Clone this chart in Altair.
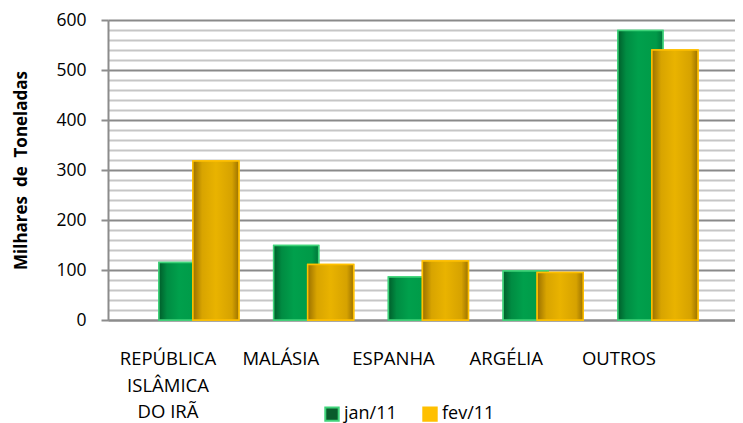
import altair as alt
import pandas as pd

categories = ["REPÚBLICA ISLÂMICA DO IRÃ", "MALÁSIA", "ESPANHA", "ARGÉLIA", "OUTROS"]
cat_labels = ["REPÚBLICA\nISLÂMICA\nDO IRÃ", "MALÁSIA", "ESPANHA", "ARGÉLIA", "OUTROS"]
jan = [115, 149, 86, 98, 579]
fev = [318, 111, 118, 95, 540]
series = ["jan/11", "fev/11"]

df = pd.DataFrame({"cat": categories, "jan": jan, "fev": fev, "label": cat_labels})

FONT = "Open Sans"
grid_values = list(range(0, 601, 20))

x_enc = alt.X(
    "cat:N", sort=categories,
    scale=alt.Scale(paddingInner=0, paddingOuter=0.232, align=0.63),
    axis=alt.Axis(labels=False, ticks=False, title=None, grid=False,
                  domainColor="#8c8c8c", domainWidth=2),
)

y_axis = alt.Axis(
    values=grid_values,
    labelExpr="datum.value % 100 === 0 ? datum.label : ''",
    gridColor={"condition": {"test": "datum.value % 100 === 0", "value": "#8a8a8a"}, "value": "#c6c6c6"},
    gridWidth=2,
    tickColor="#8c8c8c",
    tickOpacity={"condition": {"test": "datum.value % 100 === 0", "value": 1}, "value": 0},
    tickSize=7, tickWidth=2,
    domainColor="#8c8c8c", domainWidth=2,
    labelFont=FONT, labelFontSize=17.5, labelColor="#000000", labelPadding=15,
    title="Milhares\u00a0 de\u00a0 Toneladas", titleFont=FONT, titleFontSize=17,
    titleFontWeight="bold", titleColor="#000000", titlePadding=25,
)

def y_enc(field):
    return alt.Y(f"{field}:Q", scale=alt.Scale(domain=[0, 600], nice=False), axis=y_axis)

color_scale = alt.Scale(domain=series, range=["#0a5c2c", "#ffc000"])
stroke_scale = alt.Scale(domain=series, range=["#3fd37a", "#ffc000"])
legend = alt.Legend(
    title=None, orient="none", legendX=215, legendY=385, direction="horizontal",
    symbolType="square", symbolSize=180, symbolStrokeWidth=2,
    labelFont=FONT, labelFontSize=18, labelColor="#000000",
    columnPadding=22, padding=0, symbolOffset=0, labelOffset=3,
)

green_grad = alt.Gradient(
    gradient="linear", x1=0, x2=1, y1=0, y2=0,
    stops=[alt.GradientStop(offset=0, color="#005e2b"),
           alt.GradientStop(offset=0.18, color="#008c42"),
           alt.GradientStop(offset=0.45, color="#00a04c"),
           alt.GradientStop(offset=0.85, color="#009a48"),
           alt.GradientStop(offset=1, color="#00763a")],
)
yellow_grad = alt.Gradient(
    gradient="linear", x1=0, x2=1, y1=0, y2=0,
    stops=[alt.GradientStop(offset=0, color="#9a7000"),
           alt.GradientStop(offset=0.2, color="#d8a400"),
           alt.GradientStop(offset=0.5, color="#e9b300"),
           alt.GradientStop(offset=0.85, color="#d6a200"),
           alt.GradientStop(offset=1, color="#9c7200")],
)

base = alt.Chart(df)

green_leg = base.mark_bar(width=45, xOffset=-17.5, strokeWidth=1.5).transform_calculate(
    series="'jan/11'"
).encode(
    x=x_enc, y=y_enc("jan"),
    fill=alt.Fill("series:N", scale=color_scale, legend=legend),
    stroke=alt.Stroke("series:N", scale=stroke_scale, legend=legend),
)
green_bar = base.mark_bar(width=45, xOffset=-17.5, fill=green_grad,
                          stroke="#3fd37a", strokeWidth=1.5).encode(
    x=x_enc, y=y_enc("jan"))
yellow_leg = base.mark_bar(width=46, xOffset=17, strokeWidth=1.5).transform_calculate(
    series="'fev/11'"
).encode(
    x=x_enc, y=y_enc("fev"),
    fill=alt.Fill("series:N", scale=color_scale, legend=legend),
    stroke=alt.Stroke("series:N", scale=stroke_scale, legend=legend),
)
yellow_bar = base.mark_bar(width=46, xOffset=17, fill=yellow_grad,
                           stroke="#ffc000", strokeWidth=1.5).encode(
    x=x_enc, y=y_enc("fev"))

bars = alt.layer(green_leg, green_bar, yellow_leg, yellow_bar)

labels = base.mark_text(
    font=FONT, fontSize=18.5, color="#000000", align="center",
    baseline="alphabetic", lineBreak="\n", lineHeight=26.5,
).encode(
    x=alt.X("cat:N", sort=categories,
            scale=alt.Scale(type="point", range=[60, 511], padding=0), axis=None),
    y=alt.value(345),
    text="label:N",
)

chart = alt.layer(bars, labels).resolve_scale(x="independent").properties(
    width=627, height=300,
    autosize=alt.AutoSizeParams(type="none"),
    padding={"left": 100, "top": 12, "right": 0, "bottom": 103},
).configure_view(stroke=None).configure(background="white")

chart.save("out.html", embed_options={"renderer": "svg", "actions": False})
